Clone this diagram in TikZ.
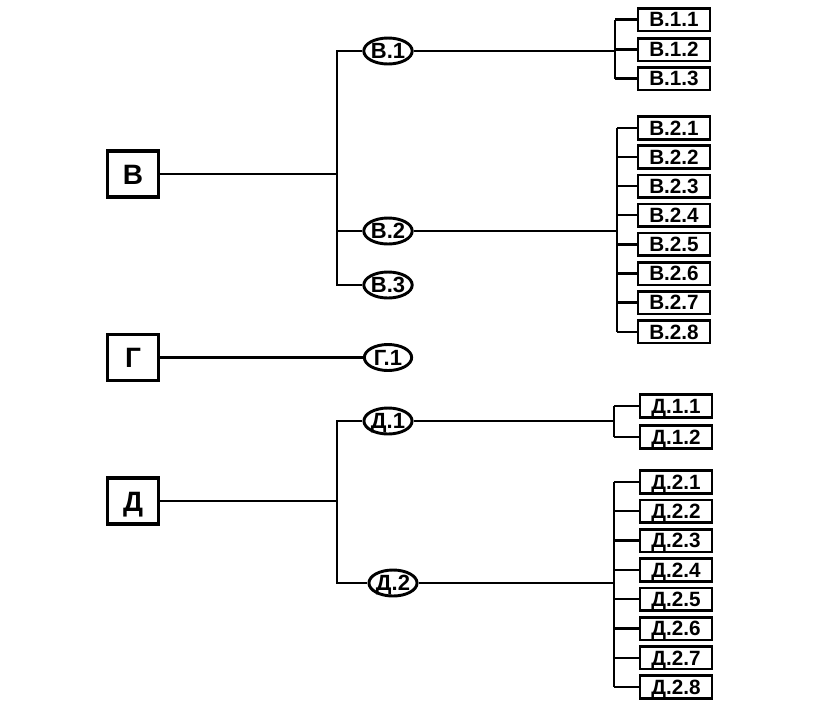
\documentclass[tikz,border=0pt]{standalone}
\usepackage{fontspec}
\setmainfont{Liberation Sans}
\usetikzlibrary{shapes.geometric}

\begin{document}
\begin{tikzpicture}[
  x=.75pt, y=-.75pt,
  line join=miter,
  ln/.style={draw=black, line width=1.7pt},
  top box/.style={draw, line width=2.4pt, inner sep=0pt,
    minimum width=38pt, minimum height=34.5pt,
    text height=15pt, text depth=0pt,
    font=\fontsize{21}{24}\selectfont\bfseries},
  sub oval/.style={ellipse, draw, line width=2.2pt, inner sep=0pt,
    minimum width=35.5pt, minimum height=19.5pt, fill=white,
    text height=11.8pt, text depth=0pt,
    font=\fontsize{16.5}{18}\selectfont\bfseries},
  leaf box/.style={draw, line width=2pt, inner sep=0pt,
    minimum width=54pt, minimum height=17pt,
    text height=11pt, text depth=0pt,
    font=\fontsize{15.5}{17}\selectfont\bfseries}
]
\useasboundingbox (0,0) rectangle (838,701);

% Branch B: two sub-groups with leaves, one without.
\node[top box] (B) at (133,174) {В};
\node[sub oval] (B1) at (388,51) {В.1};
\node[sub oval] (B2) at (388,231) {В.2};
\node[sub oval] (B3) at (388,285) {В.3};
\foreach \i/\yy in {1/19.5,2/49.5,3/78.5}
  \node[leaf box] (B1\i) at (674,\yy) {В.1.\i};
\foreach \i in {1,...,8}
  \node[leaf box] (B2\i) at (674,{128+29.1*(\i-1)}) {В.2.\i};

\coordinate (tB) at (337,174);
\draw[ln] (B) -- (tB);
\draw[ln] (B1.west) -| (tB) |- (B3.west);
\draw[ln] (tB |- B2.west) -- (B2.west);

\coordinate (kB1) at (615,0);
\coordinate (kB2) at (617,0);
\draw[ln] (B1.east) -- (B1.east -| kB1);
\draw[ln] (B11.west -| kB1) -- (B13.west -| kB1);
\foreach \i in {1,2,3}
  \draw[ln] (B1\i.west -| kB1) -- (B1\i.west);
\draw[ln] (B2.east) -- (B2.east -| kB2);
\draw[ln] (B21.west -| kB2) -- (B28.west -| kB2);
\foreach \i in {1,...,8}
  \draw[ln] (B2\i.west -| kB2) -- (B2\i.west);

% Branch G: a single sub-group.
\node[top box] (G) at (133,357.5) {Г};
\node[sub oval] (G1) at (388,357.5) {Г.1};
\draw[ln] (G) -- (G1);

% Branch D: two sub-groups.
\node[top box] (D) at (133,501) {Д};
\node[sub oval] (D1) at (388,421) {Д.1};
\node[sub oval] (D2) at (393,583) {Д.2};
\foreach \i/\yy in {1/406,2/437}
  \node[leaf box] (D1\i) at (676,\yy) {Д.1.\i};
\foreach \i in {1,...,8}
  \node[leaf box] (D2\i) at (676,{482+29.3*(\i-1)}) {Д.2.\i};

\coordinate (tD) at (337,501);
\draw[ln] (D) -- (tD);
\draw[ln] (D1.west) -| (tD) |- (D2.west);

\coordinate (kD) at (614,0);
\draw[ln] (D1.east) -- (D1.east -| kD);
\draw[ln] (D11.west -| kD) -- (D12.west -| kD);
\foreach \i in {1,2}
  \draw[ln] (D1\i.west -| kD) -- (D1\i.west);
\draw[ln] (D2.east) -- (D2.east -| kD);
\draw[ln] (D21.west -| kD) -- (D28.west -| kD);
\foreach \i in {1,...,8}
  \draw[ln] (D2\i.west -| kD) -- (D2\i.west);
\end{tikzpicture}
\end{document}
